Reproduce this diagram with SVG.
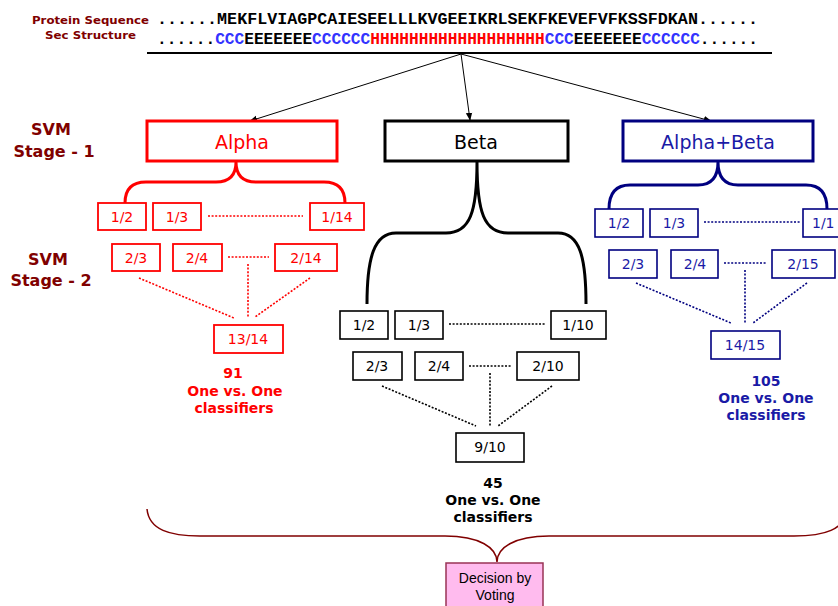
<svg xmlns="http://www.w3.org/2000/svg" width="838" height="606" viewBox="0 0 838 606">
<style>
.lbl{font-family:"DejaVu Sans",Verdana,sans-serif;font-weight:bold;fill:#800000}
.seq{font-family:"Liberation Mono","Courier New",monospace;font-weight:bold;font-size:16px}
.big{font-family:"DejaVu Sans",Verdana,sans-serif;font-size:19px;text-anchor:middle}
.sm{font-family:"DejaVu Sans",Verdana,sans-serif;font-size:14px;text-anchor:middle}
.cnt{font-family:"DejaVu Sans",Verdana,sans-serif;font-size:14px;font-weight:bold;text-anchor:middle}
.r{stroke:#ff0000;fill:#fff}
.k{stroke:#000;fill:#fff}
.b{stroke:#000080;fill:#fff}
.dot{fill:none;stroke-width:1.6;stroke-dasharray:2 1.6}
</style>
<defs>
<marker id="ah" viewBox="0 0 10 10" refX="9" refY="5" markerWidth="8" markerHeight="8" orient="auto" markerUnits="userSpaceOnUse">
<path d="M0,1 L10,5 L0,9 z" fill="#000"/>
</marker>
</defs>
<rect width="838" height="606" fill="#fff"/>

<g id="header">
<text class="lbl" x="149" y="24" font-size="11" text-anchor="end" textLength="117" lengthAdjust="spacingAndGlyphs">Protein Sequence</text>
<text class="lbl" x="136" y="39" font-size="11" text-anchor="end" textLength="91" lengthAdjust="spacingAndGlyphs">Sec Structure</text>
<text class="seq" x="157" y="24" textLength="601" lengthAdjust="spacingAndGlyphs" fill="#000">......MEKFLVIAGPCAIESEELLLKVGEEIKRLSEKFKEVEFVFKSSFDKAN......</text>
<text class="seq" x="157" y="44" textLength="601" lengthAdjust="spacingAndGlyphs" fill="#000">......<tspan fill="#3333ff">CCC</tspan>EEEEEEE<tspan fill="#3333ff">CCCCCC</tspan><tspan fill="#ff0000">HHHHHHHHHHHHHHHHHH</tspan><tspan fill="#3333ff">CCC</tspan>EEEEEEE<tspan fill="#3333ff">CCCCCC</tspan>......</text>
<line x1="147" y1="53" x2="772" y2="53" stroke="#000" stroke-width="2"/>
</g>

<g id="stage-labels">
<text class="lbl" x="51" y="135" font-size="16" text-anchor="middle">SVM</text>
<text class="lbl" x="54" y="157" font-size="16" text-anchor="middle">Stage - 1</text>
<text class="lbl" x="48" y="265" font-size="16" text-anchor="middle">SVM</text>
<text class="lbl" x="51" y="286" font-size="16" text-anchor="middle">Stage - 2</text>
</g>

<g id="connectors">
<line x1="461" y1="54" x2="250" y2="121" stroke="#000" stroke-width="1" marker-end="url(#ah)"/>
<line x1="461" y1="54" x2="470" y2="120" stroke="#000" stroke-width="1" marker-end="url(#ah)"/>
<line x1="461" y1="54" x2="711" y2="121" stroke="#000" stroke-width="1" marker-end="url(#ah)"/>
<path d="M125 203 Q125 182 146 182 L216 182 Q236 182 236 162 Q236 182 256 182 L324 182 Q345 182 345 203" fill="none" stroke="#ff0000" stroke-width="3"/>
<path d="M367 304 C367 258 374 233 396 233 L446 233 C470 233 477 212 477 162 C477 212 484 233 508 233 L558 233 C580 233 586 258 586 304" fill="none" stroke="#000" stroke-width="3"/>
<path d="M609 209 Q609 185 630 185 L698 185 Q718 185 718 162 Q718 185 738 185 L806 185 Q827 185 827 209" fill="none" stroke="#000080" stroke-width="3"/>
<path d="M147 509 C149 530 170 536 200 536 L445 536 C480 536 497 548 497 562 C497 548 514 536 549 536 L794 536 C824 536 845 530 847 509" fill="none" stroke="#800000" stroke-width="1.5"/>
<g stroke="#ff0000" class="dot">
<line x1="208" y1="216" x2="303" y2="216"/>
<line x1="228" y1="257" x2="269" y2="257"/>
<line x1="248" y1="264" x2="248" y2="318"/>
<line x1="139" y1="278" x2="234" y2="318"/>
<line x1="310" y1="278" x2="255" y2="317"/>
</g>
<g stroke="#000" class="dot">
<line x1="449" y1="324" x2="545" y2="324"/>
<line x1="469" y1="366" x2="511" y2="366"/>
<line x1="490" y1="373" x2="490" y2="426"/>
<line x1="382" y1="386" x2="476" y2="426"/>
<line x1="552" y1="386" x2="498" y2="426"/>
</g>
<g stroke="#000080" class="dot">
<line x1="704" y1="222" x2="800" y2="222"/>
<line x1="724" y1="263" x2="766" y2="263"/>
<line x1="745" y1="270" x2="745" y2="323"/>
<line x1="636" y1="283" x2="731" y2="323"/>
<line x1="807" y1="283" x2="753" y2="323"/>
</g>
</g>

<g id="alpha">
<rect class="r" x="147" y="121" width="190" height="40" stroke-width="3"/>
<text class="big" x="242" y="149" fill="#ff0000">Alpha</text>
</g>
<g id="beta">
<rect class="k" x="385" y="121" width="183" height="40" stroke-width="3"/>
<text class="big" x="476" y="149" fill="#000">Beta</text>
</g>
<g id="alphabeta">
<rect class="b" x="623" y="121" width="190" height="40" stroke-width="3"/>
<text class="big" x="718" y="149" fill="#1a1aa6">Alpha+Beta</text>
</g>

<g id="alpha-classifiers" fill="#ff0000">
<g id="a12"><rect class="r" x="98" y="203" width="48" height="27" stroke-width="1.8"/><text class="sm" x="122" y="222" fill="#ff0000">1/2</text></g>
<g id="a13"><rect class="r" x="153" y="203" width="48" height="27" stroke-width="1.8"/><text class="sm" x="177" y="222" fill="#ff0000">1/3</text></g>
<g id="a114"><rect class="r" x="310" y="203" width="54" height="27" stroke-width="1.8"/><text class="sm" x="337" y="222" fill="#ff0000">1/14</text></g>
<g id="a23"><rect class="r" x="112" y="244" width="48" height="27" stroke-width="1.8"/><text class="sm" x="136" y="263" fill="#ff0000">2/3</text></g>
<g id="a24"><rect class="r" x="173" y="244" width="49" height="27" stroke-width="1.8"/><text class="sm" x="197" y="263" fill="#ff0000">2/4</text></g>
<g id="a214"><rect class="r" x="275" y="244" width="62" height="27" stroke-width="1.8"/><text class="sm" x="306" y="263" fill="#ff0000">2/14</text></g>
<g id="a1314"><rect class="r" x="214" y="325" width="69" height="28" stroke-width="1.8"/><text class="sm" x="248" y="344" fill="#ff0000">13/14</text></g>
<g id="a-count"><text class="cnt" x="233" y="378" fill="#ff0000">91</text><text class="cnt" x="235" y="396" fill="#ff0000">One vs. One</text><text class="cnt" x="234" y="413" fill="#ff0000">classifiers</text></g>
</g>

<g id="beta-classifiers">
<g id="b12"><rect class="k" x="340" y="311" width="48" height="28" stroke-width="1.6"/><text class="sm" x="364" y="330">1/2</text></g>
<g id="b13"><rect class="k" x="395" y="311" width="48" height="28" stroke-width="1.6"/><text class="sm" x="419" y="330">1/3</text></g>
<g id="b110"><rect class="k" x="551" y="311" width="55" height="28" stroke-width="1.6"/><text class="sm" x="578" y="330">1/10</text></g>
<g id="b23"><rect class="k" x="353" y="352" width="49" height="28" stroke-width="1.6"/><text class="sm" x="377" y="371">2/3</text></g>
<g id="b24"><rect class="k" x="415" y="352" width="48" height="28" stroke-width="1.6"/><text class="sm" x="439" y="371">2/4</text></g>
<g id="b210"><rect class="k" x="517" y="352" width="62" height="28" stroke-width="1.6"/><text class="sm" x="548" y="371">2/10</text></g>
<g id="b910"><rect class="k" x="456" y="433" width="68" height="29" stroke-width="1.6"/><text class="sm" x="490" y="452">9/10</text></g>
<g id="b-count"><text class="cnt" x="493" y="488">45</text><text class="cnt" x="493" y="505">One vs. One</text><text class="cnt" x="493" y="522">classifiers</text></g>
</g>

<g id="ab-classifiers">
<g id="c12"><rect class="b" x="595" y="209" width="48" height="28" stroke-width="1.6"/><text class="sm" x="619" y="228" fill="#1a1aa6">1/2</text></g>
<g id="c13"><rect class="b" x="650" y="209" width="48" height="28" stroke-width="1.6"/><text class="sm" x="674" y="228" fill="#1a1aa6">1/3</text></g>
<g id="c115"><rect class="b" x="803" y="209" width="54" height="28" stroke-width="1.6"/><text x="812" y="228" font-family="DejaVu Sans,Verdana,sans-serif" font-size="14" fill="#1a1aa6">1/1</text></g>
<g id="c23"><rect class="b" x="609" y="250" width="48" height="28" stroke-width="1.6"/><text class="sm" x="633" y="269" fill="#1a1aa6">2/3</text></g>
<g id="c24"><rect class="b" x="671" y="250" width="47" height="28" stroke-width="1.6"/><text class="sm" x="695" y="269" fill="#1a1aa6">2/4</text></g>
<g id="c215"><rect class="b" x="772" y="250" width="63" height="28" stroke-width="1.6"/><text class="sm" x="803" y="269" fill="#1a1aa6">2/15</text></g>
<g id="c1415"><rect class="b" x="711" y="331" width="69" height="28" stroke-width="1.6"/><text class="sm" x="745" y="350" fill="#1a1aa6">14/15</text></g>
<g id="c-count"><text class="cnt" x="766" y="386" fill="#1a1aa6">105</text><text class="cnt" x="766" y="403" fill="#1a1aa6">One vs. One</text><text class="cnt" x="766" y="420" fill="#1a1aa6">classifiers</text></g>
</g>

<g id="decision">
<rect x="446" y="563" width="97" height="50" fill="#ffbbee" stroke="#993355" stroke-width="1.5"/>
<text x="495" y="583" font-family="Liberation Sans,Arial,sans-serif" font-size="14" text-anchor="middle">Decision by</text>
<text x="495" y="600" font-family="Liberation Sans,Arial,sans-serif" font-size="14" text-anchor="middle">Voting</text>
</g>
</svg>
